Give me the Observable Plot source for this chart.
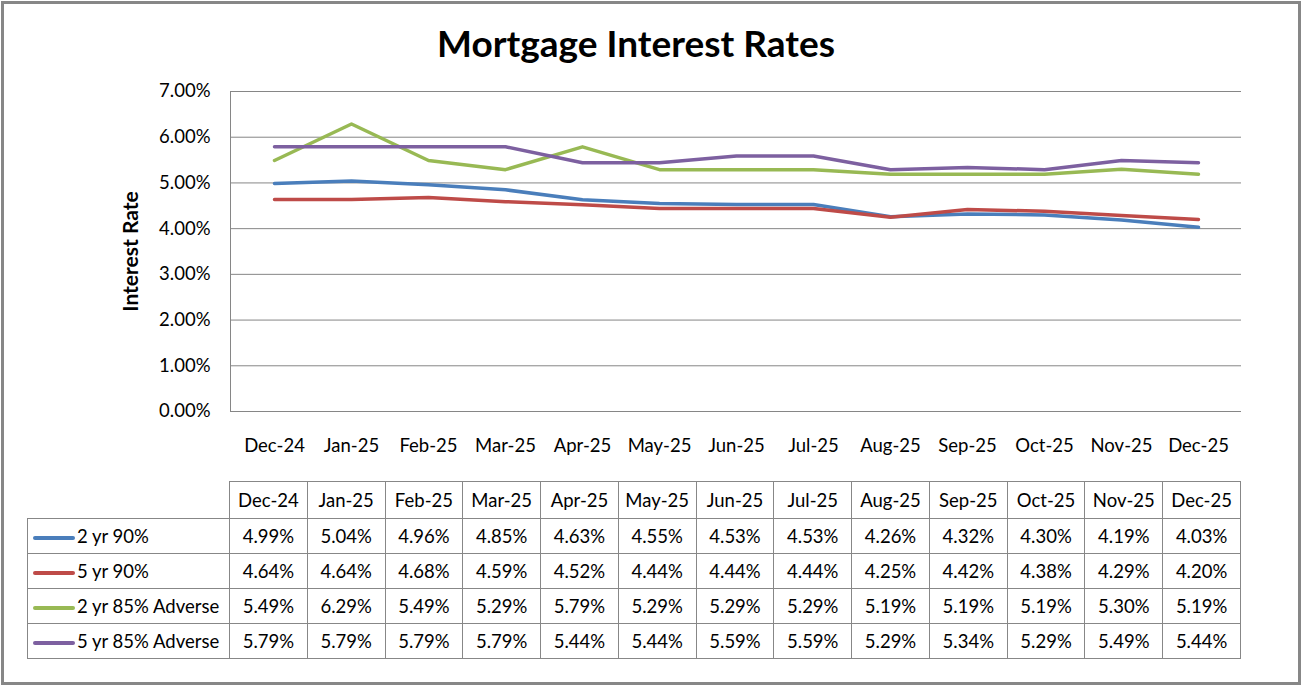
<!DOCTYPE html>
<html><head><meta charset="utf-8">
<script src="https://cdn.jsdelivr.net/npm/d3@7"></script>
<script src="https://cdn.jsdelivr.net/npm/@observablehq/plot@0.6"></script>
<style>
body{margin:0;background:#fff;font-family:Lato,"Open Sans",sans-serif;color:#000}
#wrap{position:relative;width:1302px;height:687px;overflow:hidden;background:#fff}
#border{position:absolute;left:1px;top:1px;width:1294px;height:678px;border:3px solid #878787}
#title{position:absolute;left:286px;width:700px;top:21px;text-align:center;font-weight:bold;font-size:37px;line-height:44px}
#chart{position:absolute;left:0;top:70px}
#tbl{position:absolute;left:27px;top:481px;border-collapse:collapse;table-layout:fixed;font-size:18.5px}
#tbl td{border:1px solid #878787;text-align:center;padding:0;height:34px;white-space:nowrap}
#tbl tr.head td{height:36px}
#tbl td.blank{border:none}
#tbl td.lab{text-align:left}
.sw{display:inline-block;width:42px;height:4px;border-radius:2px;vertical-align:middle;margin:0 2px 0 5px}
</style></head>
<body>
<div id="wrap">
<div id="border"></div>
<div id="title">Mortgage Interest Rates</div>
<div id="chart"></div>
<table id="tbl"></table>
</div>
<script>
const months = ["Dec-24","Jan-25","Feb-25","Mar-25","Apr-25","May-25","Jun-25","Jul-25","Aug-25","Sep-25","Oct-25","Nov-25","Dec-25"];
const seriesNames = ["2 yr 90%","5 yr 90%","2 yr 85% Adverse","5 yr 85% Adverse"];
const twoYr90 = [4.99,5.04,4.96,4.85,4.63,4.55,4.53,4.53,4.26,4.32,4.30,4.19,4.03];
const fiveYr90 = [4.64,4.64,4.68,4.59,4.52,4.44,4.44,4.44,4.25,4.42,4.38,4.29,4.20];
const twoYr85Adv = [5.49,6.29,5.49,5.29,5.79,5.29,5.29,5.29,5.19,5.19,5.19,5.30,5.19];
const fiveYr85Adv = [5.79,5.79,5.79,5.79,5.44,5.44,5.59,5.59,5.29,5.34,5.29,5.49,5.44];
const yTicks = [0,1,2,3,4,5,6,7];
const colors = ["#4A7EBB","#BE4B48","#98B954","#7D60A0"];

const seriesValues = [twoYr90, fiveYr90, twoYr85Adv, fiveYr85Adv];
const rows = [];
seriesNames.forEach((s, i) => months.forEach((m, j) => rows.push({series: s, month: m, value: seriesValues[i][j]})));

const chart = Plot.plot({
  width: 1302, height: 400,
  marginLeft: 230, marginRight: 61, marginTop: 21, marginBottom: 59,
  style: {fontFamily: "Lato, 'Open Sans', sans-serif", fontSize: "18.5px", color: "#000", background: "transparent"},
  x: {type: "point", domain: months, padding: 0.5},
  y: {domain: [0, 7]},
  color: {domain: seriesNames, range: colors},
  marks: [
    Plot.gridY(yTicks, {stroke: "#868686", strokeOpacity: 1}),
    Plot.frame({anchor: "left", stroke: "#868686"}),
    Plot.axisY(yTicks, {tickSize: 0, tickPadding: 20, tickFormat: d => d.toFixed(2) + "%", label: null}),
    Plot.axisY({ticks: [], label: "Interest Rate", labelAnchor: "center", labelArrow: false, labelOffset: 107, fontWeight: "bold", fontSize: 21}),
    Plot.axisX({tickSize: 0, tickPadding: 27, label: null}),
    Plot.line(rows, {x: "month", y: "value", z: "series", stroke: "series", strokeWidth: 3.5, strokeLinejoin: "round", strokeLinecap: "round"})
  ]
});
document.getElementById("chart").append(chart);

// data table
const tbl = document.getElementById("tbl");
const colg = document.createElement("colgroup");
colg.innerHTML = `<col style="width:202px">` + months.map(() => `<col style="width:77.77px">`).join("");
tbl.append(colg);
const head = document.createElement("tr");
head.className = "head";
head.innerHTML = `<td class="blank"></td>` + months.map(m => `<td>${m}</td>`).join("");
tbl.append(head);
seriesNames.forEach((s, i) => {
  const tr = document.createElement("tr");
  tr.innerHTML = `<td class="lab"><span class="sw" style="background:${colors[i]}"></span>${s}</td>` +
    seriesValues[i].map(v => `<td>${v.toFixed(2)}%</td>`).join("");
  tbl.append(tr);
});
</script>
</body></html>
